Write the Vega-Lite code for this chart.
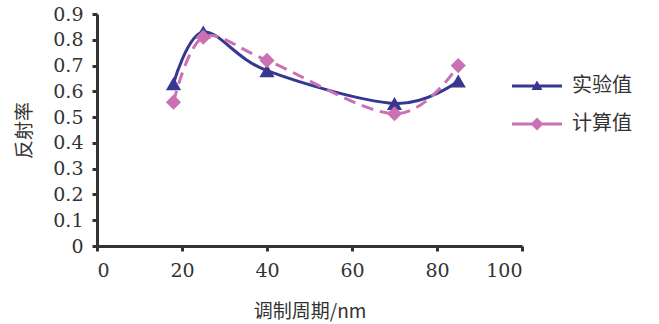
{
  "$schema": "https://vega.github.io/schema/vega-lite/v6.json",
  "autosize": "none",
  "width": 425,
  "height": 232,
  "padding": {"left": 97, "top": 14, "right": 137, "bottom": 78},
  "background": "white",
  "config": {
    "view": {"stroke": null},
    "axis": {
      "grid": false,
      "domainColor": "#333333",
      "domainWidth": 3,
      "tickColor": "#333333",
      "tickWidth": 3,
      "tickSize": 5,
      "labelFont": "DejaVu Serif",
      "labelFontSize": 19,
      "labelColor": "#333333",
      "titleFont": "Noto Sans CJK SC",
      "titleFontSize": 19,
      "titleFontWeight": "normal",
      "titleColor": "#333333"
    }
  },
  "data": {
    "values": [
      {"period": 18, "value": 0.63, "series": "实验值"},
      {"period": 25, "value": 0.83, "series": "实验值"},
      {"period": 40, "value": 0.68, "series": "实验值"},
      {"period": 70, "value": 0.553, "series": "实验值"},
      {"period": 85, "value": 0.64, "series": "实验值"},
      {"period": 18, "value": 0.558, "series": "计算值"},
      {"period": 25, "value": 0.81, "series": "计算值"},
      {"period": 40, "value": 0.72, "series": "计算值"},
      {"period": 70, "value": 0.513, "series": "计算值"},
      {"period": 85, "value": 0.70, "series": "计算值"}
    ]
  },
  "encoding": {
    "x": {
      "field": "period", "type": "quantitative",
      "scale": {"domain": [0, 100], "nice": false},
      "axis": {"values": [0, 20, 40, 60, 80, 100], "title": "调制周期/nm", "labelFont": "DejaVu Serif", "labelPadding": 10, "titlePadding": 22}
    },
    "y": {
      "field": "value", "type": "quantitative",
      "scale": {"domain": [0, 0.9], "nice": false},
      "axis": {"values": [0, 0.1, 0.2, 0.3, 0.4, 0.5, 0.6, 0.7, 0.8, 0.9], "format": ".1~f", "title": "反射率", "labelFont": "DejaVu Serif", "labelPadding": 9, "titlePadding": 18}
    },
    "color": {
      "field": "series", "type": "nominal",
      "scale": {"domain": ["实验值", "计算值"], "range": ["#373792", "#cc70b4"]}
    }
  },
  "layer": [
    {
      "transform": [{"filter": "datum.series === '实验值'"}],
      "mark": {"type": "line", "interpolate": "cardinal", "strokeWidth": 3}
    },
    {
      "transform": [{"filter": "datum.series === '计算值'"}],
      "mark": {"type": "line", "interpolate": "cardinal", "strokeWidth": 3, "strokeDash": [12, 7]}
    },
    {
      "transform": [{"filter": "datum.series === '实验值'"}],
      "mark": {"type": "point", "shape": "triangle-up", "filled": true, "size": 230, "opacity": 1}
    },
    {
      "transform": [{"filter": "datum.series === '计算值'"}],
      "mark": {"type": "point", "shape": "diamond", "filled": true, "size": 230, "opacity": 1}
    },
    {
      "mark": {"type": "point", "filled": true, "opacity": 0},
      "encoding": {
        "shape": {
          "field": "series", "type": "nominal",
          "scale": {"domain": ["实验值", "计算值"], "range": [
            "M-1,-0.06H1V0.06H-1Z M0,-0.22L0.22,0.16L-0.22,0.16Z",
            "M-1,-0.06H1V0.06H-1Z M0,-0.26L0.26,0L0,0.26L-0.26,0Z"
          ]},
          "legend": {
            "title": null,
            "orient": "none",
            "legendX": 415,
            "legendY": 47,
            "symbolSize": 2500,
            "symbolStrokeWidth": 0,
            "labelFont": "Noto Sans CJK SC",
            "labelFontSize": 20,
            "labelColor": "#333333",
            "labelOffset": 10,
            "rowPadding": 3,
            "encode": {"symbols": {"update": {"opacity": {"value": 1}}}}
          }
        }
      }
    }
  ]
}
